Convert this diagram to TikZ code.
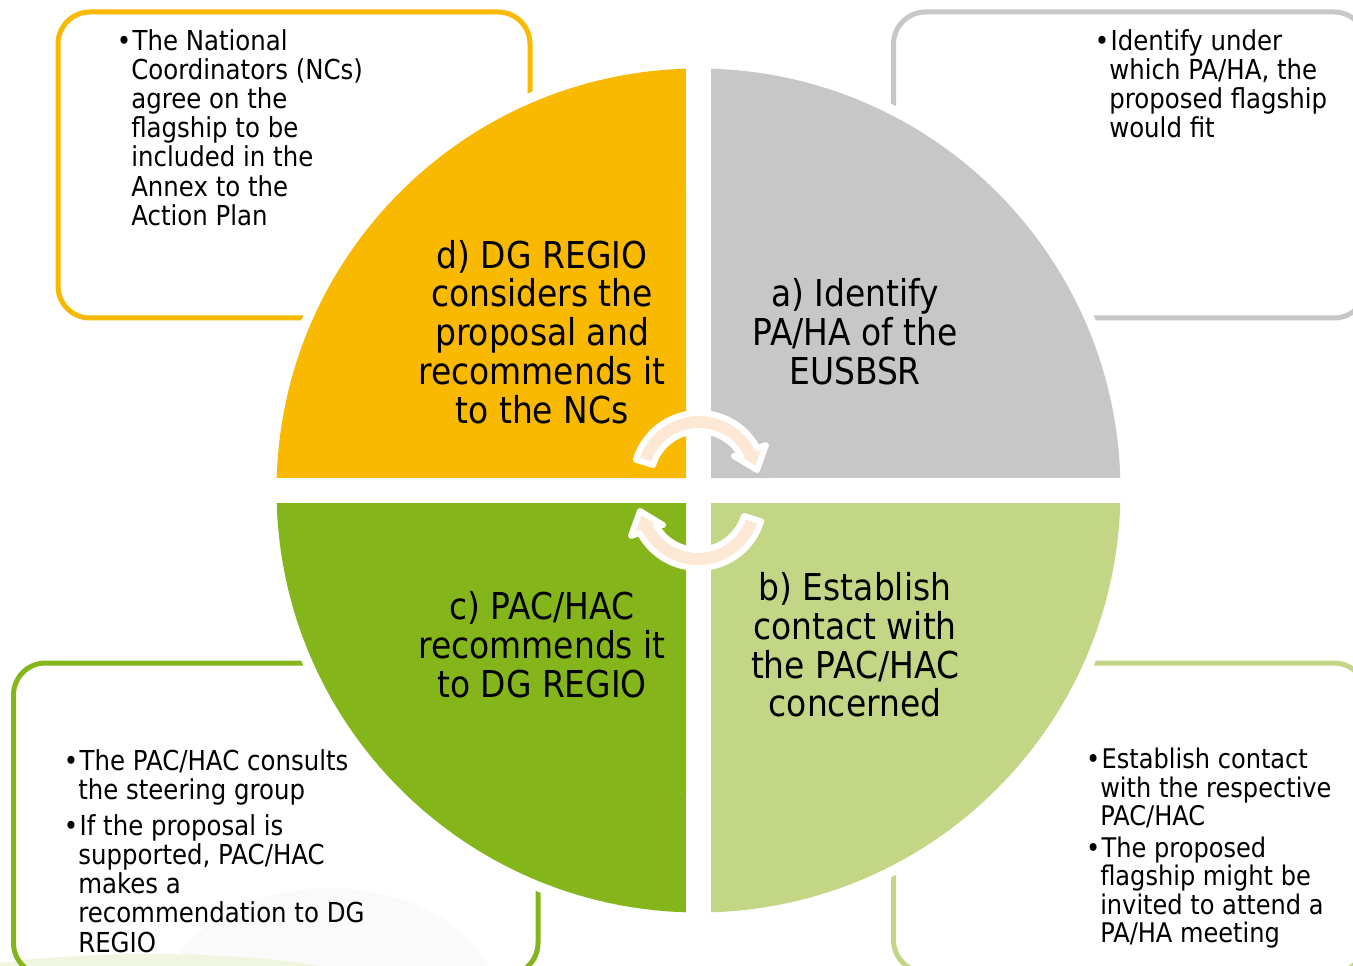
\documentclass[tikz,border=0pt]{standalone}
\usepackage{fontspec}
\setmainfont[FakeStretch=0.89]{DejaVu Sans}
\usepackage{xcolor}
\usepackage{tikz}
\usetikzlibrary{positioning}
\definecolor{regioorange}{RGB}{248,185,0}
\definecolor{pagray}{RGB}{199,199,199}
\definecolor{paclight}{RGB}{194,214,133}
\definecolor{pacdark}{RGB}{132,182,27}
\definecolor{cyclepeach}{RGB}{252,232,212}
\newcommand{\bul}{\llap{\textbullet}\kern1pt}

\begin{document}
\begin{tikzpicture}[x=0.75pt,y=0.75pt,
    box/.style={rounded corners=24pt,line width=3.75pt},
    quarter/.style={font=\fontsize{27.75}{29.1}\selectfont,align=center,inner sep=0pt},
    note/.style={font=\fontsize{20.6}{21.9}\selectfont,align=left,inner sep=0pt,anchor=north west},
    turn/.style={fill=cyclepeach,draw=white,line width=4.5pt,line join=round}]
    \useasboundingbox (0,0) rectangle (1353,-966);
    \clip (0,0) rectangle (1353,-966);
    \fill[black!2] (330,-1010) ellipse [x radius=170,y radius=122];
    \fill[paclight!25] (150,-1002) ellipse [x radius=260,y radius=48];
    \draw[box,regioorange] (58,-12) rectangle (530,-318);
    \draw[box,pagray] (893.5,-12) rectangle (1366,-318);
    \draw[box,pacdark] (13.5,-663) rectangle (538,-975);
    \draw[box,paclight] (893.5,-663) rectangle (1366,-972);
    \fill[white] (698.5,-490.5) circle (432);
    \fill[regioorange] (686,-478) -- ([shift={(91.7:422)}]698.5,-490.5) arc[start angle=91.7,end angle=178.3,radius=422] -- cycle;
    \fill[pagray] (711,-478) -- ([shift={(1.7:422)}]698.5,-490.5) arc[start angle=1.7,end angle=88.3,radius=422] -- cycle;
    \fill[paclight] (711,-503) -- ([shift={(-88.3:422)}]698.5,-490.5) arc[start angle=-88.3,end angle=-1.7,radius=422] -- cycle;
    \fill[pacdark] (686,-503) -- ([shift={(181.7:422)}]698.5,-490.5) arc[start angle=181.7,end angle=268.3,radius=422] -- cycle;
    \node[quarter] (dgregio) at (542,-332) {d) DG REGIO\\considers the\\proposal and\\recommends it\\to the NCs};
    \node[quarter] (identify) at (855,-332) {a) Identify\\PA/HA of the\\EUSBSR};
    \node[quarter] (establish) at (855,-645) {b) Establish\\contact with\\the PAC/HAC\\concerned};
    \node[quarter] (recommend) at (542,-645) {c) PAC/HAC\\recommends it\\to DG REGIO};
    \filldraw[turn] ([shift={(163:66)}]699,-479) arc[start angle=163,end angle=28,radius=66]
        -- (766,-445) -- (757,-470) -- (734,-456)
        -- ([shift={(28:48)}]699,-479) arc[start angle=28,end angle=163,radius=48] -- cycle;
    \begin{scope}[rotate around={180:(698.5,-490.5)}]
        \filldraw[turn] ([shift={(163:66)}]699,-479) arc[start angle=163,end angle=28,radius=66]
            -- (766,-445) -- (757,-470) -- (734,-456)
            -- ([shift={(28:48)}]699,-479) arc[start angle=28,end angle=163,radius=48] -- cycle;
    \end{scope}
    \node[note] (ncagree) at (131,-29) {\bul The National\\Coordinators (NCs)\\agree on the\\flagship to be\\included in the\\Annex to the\\Action Plan};
    \node[note] (pafit) at (1109,-29) {\bul Identify under\\which PA/HA, the\\proposed flagship\\would fit};
    \node[note] (steering) at (78,-749) {\bul The PAC/HAC consults\\the steering group\\[5pt]\bul If the proposal is\\supported, PAC/HAC\\makes a\\recommendation to DG\\REGIO};
    \node[note,font=\fontsize{20.3}{21.2}\selectfont] (contact) at (1100,-748) {\bul Establish contact\\with the respective\\PAC/HAC\\[3pt]\bul The proposed\\flagship might be\\invited to attend a\\PA/HA meeting};
\end{tikzpicture}
\end{document}
